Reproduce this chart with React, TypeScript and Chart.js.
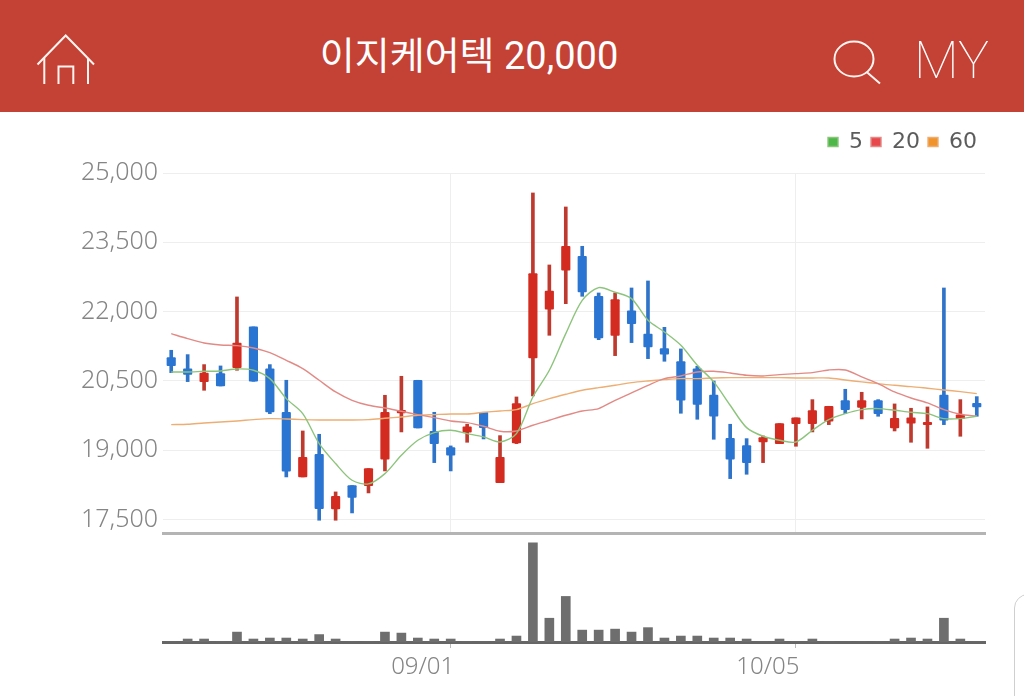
import React, { useEffect, useRef } from "react";
import { Chart, registerables } from "chart.js";

Chart.register(...registerables);

const title = "이지케어텍 20,000";
const priceTicks = [17500, 19000, 20500, 22000, 23500, 25000];
const dateLabels: Record<number, string> = { 17: "09/01", 38: "10/05" };
const categories = [
  "08/06","08/07","08/08","08/09","08/10","08/11","08/12","08/13","08/14","08/15",
  "08/16","08/17","08/18","08/19","08/20","08/21","08/22","09/01","09/02","09/03",
  "09/04","09/07","09/08","09/09","09/10","09/11","09/14","09/15","09/16","09/17",
  "09/18","09/21","09/22","09/23","09/24","09/25","09/28","09/29","10/05","10/06",
  "10/07","10/08","10/12","10/13","10/14","10/15","10/16","10/19","10/20","10/21",
];
const opens = [
  21005,20760,20486,20659,20789,21669,20760,19822,18423,18914,
  17731,18236,18236,18805,19808,20515,19411,19058,19390,19822,
  18300,19159,20998,22051,22895,23197,22332,21488,22015,21517,
  21200,20919,20760,20197,19260,19101,19180,19144,19577,19577,
  19628,20075,19930,20075,19483,19584,19555,20197,19685,20017,
];
const closes = [
  20832,20644,20673,20392,21322,20493,19829,18546,18849,17738,
  18005,17980,18603,19822,19866,19483,19144,18892,19505,19490,
  18849,20010,22822,22447,23414,22426,21431,22260,21741,21236,
  21077,20082,19995,19736,18805,18733,19274,19577,19700,19858,
  19952,19880,20075,19793,19692,19700,19606,19649,19765,19938,
];
const highs = [
  21164,21070,20854,20825,22318,21669,20854,20515,19418,19346,
  18099,18236,18603,20190,20601,20515,19822,19094,19563,19822,
  19317,20154,24568,23010,24265,23414,22404,22404,22512,22664,
  21661,21193,20818,20500,19563,19252,19310,19577,19700,20096,
  19952,20320,20255,20096,20003,19909,19938,22512,20096,20161,
];
const lows = [
  20680,20486,20298,20392,20731,20493,19793,18423,18423,17486,
  17486,17644,18077,18553,19397,19483,18733,18553,19173,19245,
  18300,19144,20176,21488,22173,22332,21394,21048,21330,20983,
  20926,19801,19671,19238,18387,18481,18733,19144,19087,19397,
  19555,19793,19678,19736,19418,19173,19043,19555,19303,19736,
];
const ma5 = [
  20695,20695,20709,20717,20760,20731,20551,20118,19793,19144,
  18712,18351,18272,18495,18892,19216,19382,19433,19361,19289,
  19180,19361,20154,20731,21524,22245,22520,22419,22282,21813,
  21560,21272,20839,20479,19974,19490,19303,19216,19180,19433,
  19664,19793,19880,19902,19866,19822,19793,19685,19685,19736,
];
const ma20 = [
  21524,21416,21322,21279,21265,21214,21113,20947,20767,20515,
  20262,20082,19974,19916,19844,19772,19707,19635,19599,19519,
  19411,19418,19541,19649,19757,19851,19902,20082,20241,20406,
  20551,20608,20695,20709,20673,20623,20608,20637,20659,20680,
  20738,20738,20587,20442,20262,20132,20024,19880,19779,19736,
];
const ma60 = [
  19555,19562,19591,19613,19635,19664,19685,19678,19664,19656,
  19656,19656,19664,19692,19721,19757,19772,19786,19786,19822,
  19851,19880,20010,20118,20212,20298,20356,20406,20464,20500,
  20529,20551,20551,20565,20572,20572,20572,20572,20565,20565,
  20565,20522,20479,20442,20406,20378,20342,20305,20269,20226,
];
const volumes = [
  0,3,3,0,10,3,4,4,3,7.5,
  3,0,0,10,9,4,3,3,0,0,
  3,6,100,24,46,12,12,13,10,14.5,
  4,6,6,4,4,3,0,3,0,3,
  0,0,0,0,3,4,3,24,3,0,
];

const UP_BODY = "#d42b20";
const UP_WICK = "#bf3a2e";
const DOWN_BODY = "#2a74d2";
const DOWN_WICK = "#2f74c8";
const isUp = (i: number) => closes[i] >= opens[i];

const legendSpace = {
  id: "legendSpace",
  beforeInit(chart: any) {
    const fit = chart.legend.fit;
    chart.legend.fit = function () {
      fit.call(this);
      this.height = 50;
    };
  },
};

export default function App() {
  const priceRef = useRef<HTMLCanvasElement>(null);
  const volumeRef = useRef<HTMLCanvasElement>(null);

  useEffect(() => {
    document.body.style.margin = "0";
    document.body.style.overflow = "hidden";
    const keepDates = (scale: any) => {
      scale.ticks = scale.ticks.filter((t: any) => dateLabels[t.value] !== undefined);
    };
    const line = (label: string, data: number[], legendColor: string, color: string) => ({
      type: "line" as const,
      label,
      data,
      borderColor: color,
      backgroundColor: legendColor,
      borderWidth: 1.4,
      pointRadius: 0,
      tension: 0.3,
      order: 0,
    });
    const price = new Chart(priceRef.current!, {
      type: "bar",
      plugins: [legendSpace],
      data: {
        labels: categories,
        datasets: [
          line("5", ma5, "#4db848", "#8cc47c"),
          line("20", ma20, "#e8474c", "#e28a86"),
          line("60", ma60, "#f0932b", "#edae74"),
          {
            label: "wick",
            data: categories.map((_, i) => [lows[i], highs[i]]),
            backgroundColor: categories.map((_, i) => (isUp(i) ? UP_WICK : DOWN_WICK)),
            barThickness: 3,
            grouped: false,
            order: 2,
          },
          {
            label: "body",
            data: categories.map((_, i) => [opens[i], closes[i]]),
            backgroundColor: categories.map((_, i) => (isUp(i) ? UP_BODY : DOWN_BODY)),
            barThickness: 8.5,
            grouped: false,
            borderRadius: 1,
            borderSkipped: false,
            order: 1,
          },
        ] as any,
      },
      options: {
        animation: false,
        responsive: false,
        maintainAspectRatio: false,
        layout: { padding: { top: 11, right: 39, bottom: 3 } },
        plugins: {
          tooltip: { enabled: false },
          legend: {
            position: "top",
            align: "end",
            labels: {
              filter: (item: any) => item.text !== "wick" && item.text !== "body",
              boxWidth: 10,
              boxHeight: 9,
              padding: 8,
              color: "#5c5c5c",
              font: { family: "'DejaVu Sans'", size: 22 },
            },
          },
        },
        scales: {
          x: {
            type: "category",
            offset: true,
            afterBuildTicks: keepDates,
            afterFit: (scale: any) => {
              scale.height = 0;
            },
            ticks: { display: false, autoSkip: false },
            grid: { offset: false, color: "#eeeeee", lineWidth: 1, drawTicks: false },
            border: { color: "#b4b4b4", width: 3 },
          },
          y: {
            min: 17210,
            max: 25000,
            afterBuildTicks: (scale: any) => {
              scale.ticks = priceTicks.map((value) => ({ value }));
            },
            afterFit: (scale: any) => {
              scale.width = 163;
              scale.paddingTop = 0;
              scale.paddingBottom = 0;
            },
            ticks: {
              color: "#858585",
              padding: 5,
              font: { family: "'Noto Sans'", size: 25, weight: "300" },
              callback: (v: any) => Number(v).toLocaleString("en-US"),
            },
            grid: { color: "#eeeeee", lineWidth: 1, drawTicks: false },
            border: { display: false },
          },
        },
      } as any,
    });
    const volume = new Chart(volumeRef.current!, {
      type: "bar",
      data: {
        labels: categories,
        datasets: [
          {
            label: "volume",
            data: volumes,
            backgroundColor: "#6e6e6e",
            barThickness: 9,
          },
        ],
      },
      options: {
        animation: false,
        responsive: false,
        maintainAspectRatio: false,
        layout: { padding: { left: 163, right: 39 } },
        plugins: { legend: { display: false }, tooltip: { enabled: false } },
        scales: {
          x: {
            type: "category",
            offset: true,
            afterBuildTicks: keepDates,
            afterFit: (scale: any) => {
              scale.height = 54;
            },
            ticks: {
              autoSkip: false,
              maxRotation: 0,
              color: "#858585",
              padding: 5,
              labelOffset: -28,
              font: { family: "'Noto Sans'", size: 24, weight: "300" },
              callback: (_: any, i: number, ticks: any[]) => dateLabels[ticks[i].value],
            },
            grid: { offset: false, drawOnChartArea: false, tickLength: 6, tickColor: "#bbbbbb" },
            border: { color: "#666666", width: 3 },
          },
          y: { display: false, min: 0, max: 107 },
        },
      } as any,
    });
    return () => {
      price.destroy();
      volume.destroy();
    };
  }, []);

  return (
    <div style={{ position: "relative", width: 1024, height: 696, overflow: "hidden", background: "#ffffff" }}>
      <div style={{ position: "absolute", left: 0, top: 0, width: 1024, height: 112, background: "#c44235" }}>
        <svg width={1024} height={112} style={{ position: "absolute", left: 0, top: 0 }} fill="none" stroke="#fff4f0" strokeWidth={2}>
          <path d="M37.5 64.5 L65.7 35.5 L94 64.5" />
          <path d="M44.3 58 L44.3 84 M88 58 L88 84" />
          <path d="M58.5 84 L58.5 66.5 L73.3 66.5 L73.3 84" />
          <ellipse cx={854} cy={59} rx={19.5} ry={17.5} />
          <path d="M866.7 72 L880 83.5" />
        </svg>
        <div
          style={{
            position: "absolute",
            left: 469,
            top: 52,
            transform: "translate(-50%, -50%)",
            color: "#ffffff",
            fontFamily: "Roboto, 'Noto Sans CJK KR'",
            fontWeight: 400,
            fontSize: 38,
            whiteSpace: "nowrap",
          }}
        >
          {title}
        </div>
        <div
          style={{
            position: "absolute",
            left: 914,
            top: 31,
            color: "#ffffff",
            fontFamily: "Roboto",
            fontWeight: 100,
            fontSize: 52,
            lineHeight: "60px",
          }}
        >
          MY
        </div>
      </div>
      <canvas ref={priceRef} width={1024} height={424} style={{ position: "absolute", left: 0, top: 112, display: "block" }} />
      <canvas ref={volumeRef} width={1024} height={160} style={{ position: "absolute", left: 0, top: 536, display: "block" }} />
      <div
        style={{
          position: "absolute",
          left: 1014,
          top: 594,
          width: 40,
          height: 140,
          border: "1px solid #cfcfcf",
          borderRadius: 14,
          boxSizing: "border-box",
        }}
      />
    </div>
  );
}
